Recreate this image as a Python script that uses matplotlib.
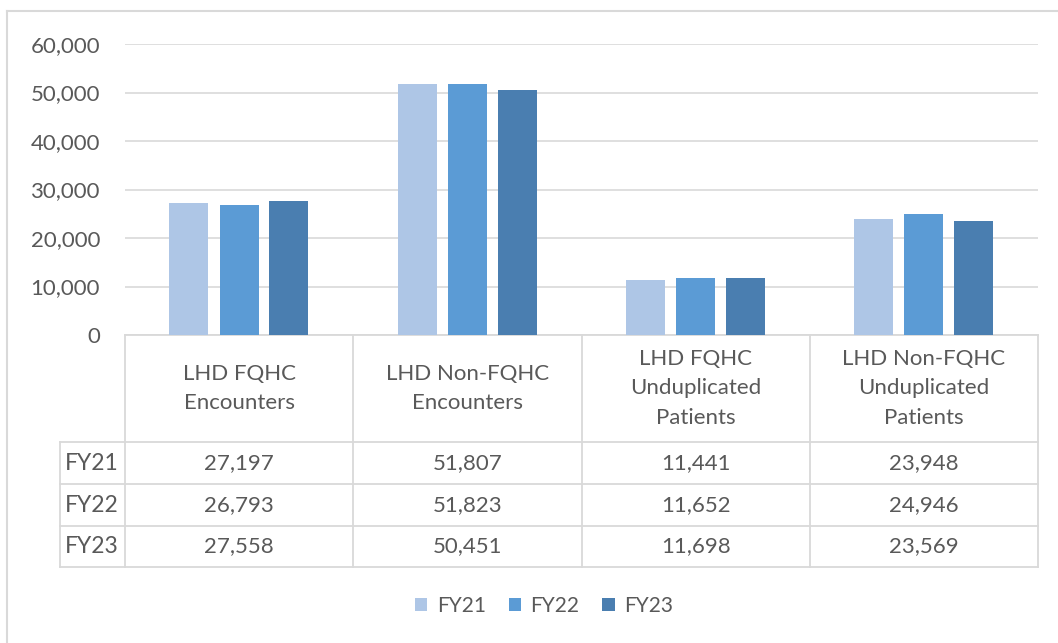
import numpy as np
import matplotlib
matplotlib.use("Agg")
import matplotlib.pyplot as plt

categories = ["LHD FQHC\nEncounters", "LHD Non-FQHC\nEncounters",
              "LHD FQHC\nUnduplicated\nPatients", "LHD Non-FQHC\nUnduplicated\nPatients"]
series_names = ["FY21", "FY22", "FY23"]
fy21 = [27197, 51807, 11441, 23948]
fy22 = [26793, 51823, 11652, 24946]
fy23 = [27558, 50451, 11698, 23569]
colors = ["#AEC6E6", "#5B9BD5", "#4A7EB0"]
yticks = [0, 10000, 20000, 30000, 40000, 50000, 60000]

W, H = 1058, 643
plt.rcParams['font.family'] = ['Lato', 'DejaVu Sans']
text_color = "#595959"
line_color = "#D9D9D9"

fig = plt.figure(figsize=(W / 100, H / 100), dpi=100)

# overlay in pixel coordinates for table/border
ov = fig.add_axes([0, 0, 1, 1])
ov.set_xlim(0, W)
ov.set_ylim(H, 0)
ov.axis("off")

left, right, top, zero_y = 125, 1038, 44, 335
ax = fig.add_axes([left / W, 1 - zero_y / H, (right - left) / W, (zero_y - top) / H])

x = np.arange(len(categories))
width = 0.171
offsets = [-0.22, 0.0, 0.218]
for vals, name, c, off in zip([fy21, fy22, fy23], series_names, colors, offsets):
    ax.bar(x + off, vals, width, color=c, label=name, zorder=3)

ax.set_xlim(-0.5, len(categories) - 0.5)
ax.set_ylim(0, 60000)
ax.set_yticks(yticks)
ax.set_yticklabels([f"{v:,}" for v in yticks], color=text_color, fontsize=16)
ax.tick_params(axis="y", length=0, pad=18)
ax.set_xticks([])
ax.grid(axis="y", color=line_color, linewidth=1.2, zorder=0)
for s in ax.spines.values():
    s.set_visible(False)
ax.patch.set_alpha(0)

# border of chart area
ov.plot([7, 7], [11, H], color=line_color, lw=1.5)
ov.plot([7, W], [11, 11], color=line_color, lw=1.5)

# data table
col_edges = np.linspace(left, right, len(categories) + 1)
row_label_left = 60
header_top, header_bot = 335, 442
row_edges = [442, 484, 526, 567]
lw = 1.3
ov.plot([left, right], [header_top, header_top], color=line_color, lw=lw)
for yy in row_edges:
    ov.plot([row_label_left, right], [yy, yy], color=line_color, lw=lw)
for xx in col_edges:
    ov.plot([xx, xx], [header_top, row_edges[-1]], color=line_color, lw=lw)
ov.plot([row_label_left, row_label_left], [row_edges[0], row_edges[-1]], color=line_color, lw=lw)

for i, cat in enumerate(categories):
    cx = (col_edges[i] + col_edges[i + 1]) / 2
    cy = (header_top + header_bot) / 2
    ov.text(cx, cy, cat, ha="center", va="center", fontsize=16, color=text_color, linespacing=1.6)

for r, (name, vals) in enumerate(zip(series_names, [fy21, fy22, fy23])):
    cy = (row_edges[r] + row_edges[r + 1]) / 2
    ov.text(row_label_left + 5, cy, name, ha="left", va="center", fontsize=16.5, color=text_color)
    for i, v in enumerate(vals):
        cx = (col_edges[i] + col_edges[i + 1]) / 2
        ov.text(cx, cy, f"{v:,}", ha="center", va="center", fontsize=16, color=text_color)

leg = ax.legend(loc="center", bbox_to_anchor=(544 / W, 1 - 606 / H), bbox_transform=fig.transFigure,
                ncol=3, frameon=False, fontsize=15, handlelength=0.6, handleheight=0.6,
                handletextpad=0.45, columnspacing=1.1)
for t in leg.get_texts():
    t.set_color(text_color)

fig.savefig("out.png", dpi=100)
